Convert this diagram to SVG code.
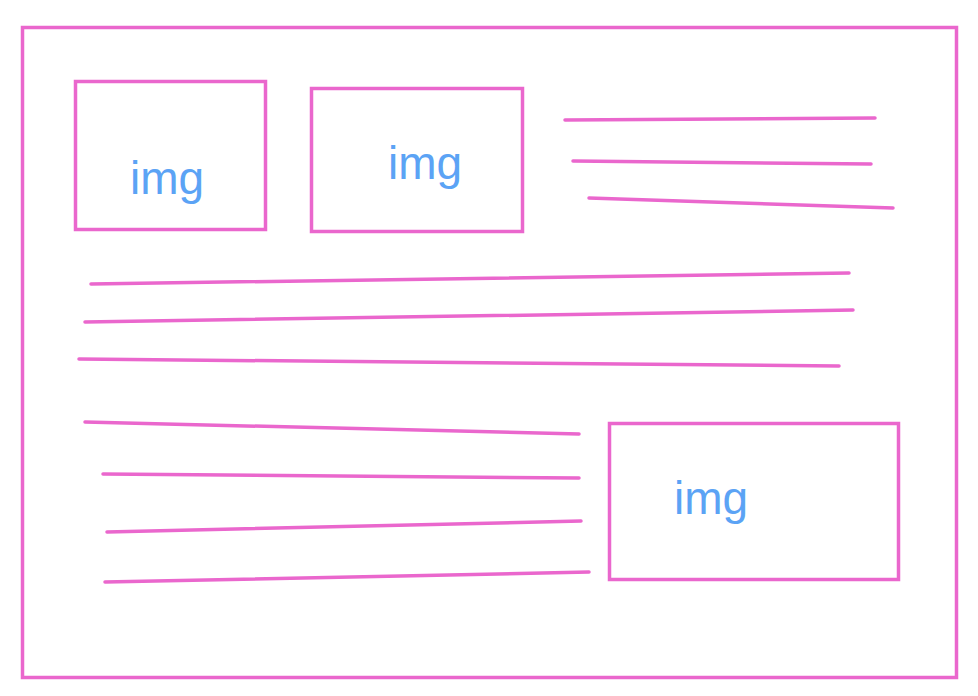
<svg xmlns="http://www.w3.org/2000/svg" width="978" height="696" viewBox="0 0 978 696">
<style>
.f{fill:none;stroke:#ea67cd;stroke-width:3.5}
.l{stroke:#ea67cd;stroke-width:3.5;stroke-linecap:round;fill:none}
.t{font-family:"Liberation Sans",Arial,sans-serif;font-size:46px;fill:#5ba3f5}
</style>
<rect width="978" height="696" fill="#fff"/>
<rect id="frame" class="f" x="22.5" y="27.5" width="934" height="650"/>
<g id="img1"><rect class="f" x="75.5" y="81.5" width="190" height="148"/><text class="t" x="167" y="194" text-anchor="middle">img</text></g>
<g id="img2"><rect class="f" x="311.5" y="88.5" width="211" height="143"/><text class="t" x="425" y="179" text-anchor="middle">img</text></g>
<g id="img3"><rect class="f" x="609.5" y="423.5" width="289" height="156"/><text class="t" x="711" y="514" text-anchor="middle">img</text></g>
<g id="lines">
<line class="l" x1="565" y1="120" x2="875" y2="118"/>
<line class="l" x1="573" y1="161" x2="871" y2="164"/>
<line class="l" x1="589" y1="198" x2="893" y2="208"/>
<line class="l" x1="91" y1="284" x2="849" y2="273"/>
<line class="l" x1="85" y1="322" x2="853" y2="310"/>
<line class="l" x1="79" y1="359" x2="839" y2="366"/>
<line class="l" x1="85" y1="422" x2="579" y2="434"/>
<line class="l" x1="103" y1="474" x2="579" y2="478"/>
<line class="l" x1="107" y1="532" x2="581" y2="521"/>
<line class="l" x1="105" y1="582" x2="589" y2="572"/>
</g>
</svg>
